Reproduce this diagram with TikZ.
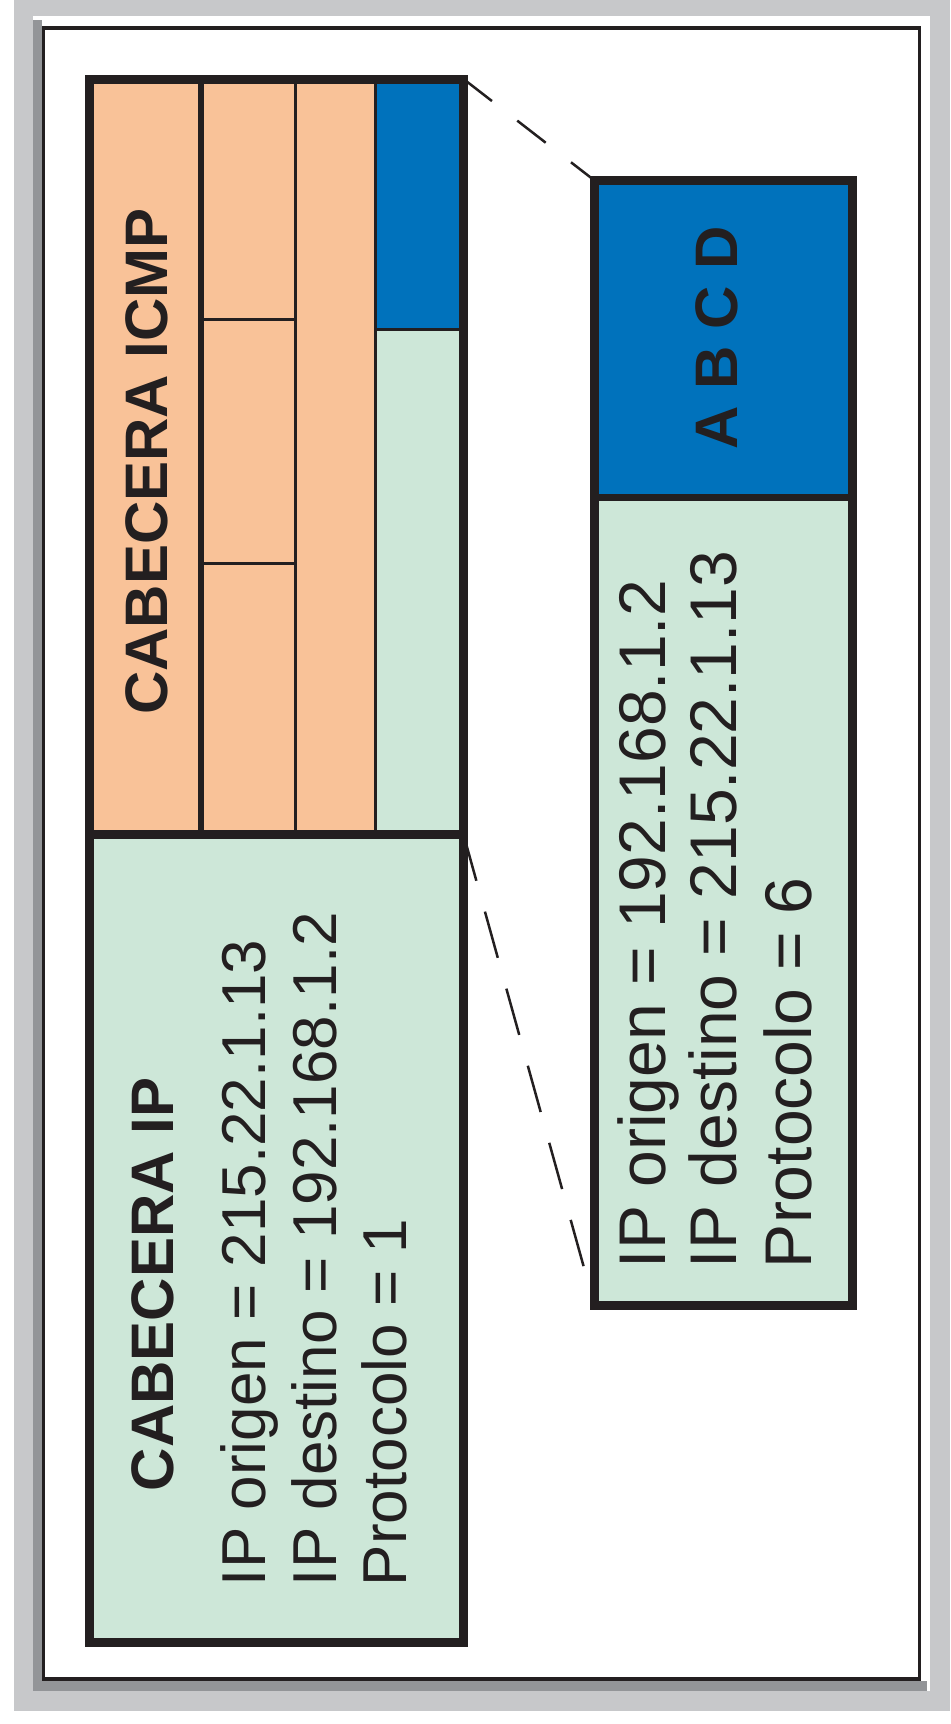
\documentclass[tikz,border=0pt]{standalone}
\usepackage{fontspec}
\setmainfont{Liberation Sans}
\definecolor{pagegray}{RGB}{199,200,202}
\definecolor{shadowgray}{RGB}{147,149,152}
\definecolor{ink}{RGB}{35,31,32}
\definecolor{peach}{RGB}{249,194,152}
\definecolor{ipblue}{RGB}{0,114,188}
\definecolor{mint}{RGB}{205,231,216}
\tikzset{
  hdr/.style={rotate=90, inner sep=0pt, outer sep=0pt, text=ink, font=\fontsize{30pt}{36pt}\selectfont\bfseries},
  txtl/.style={rotate=90, inner sep=0pt, outer sep=0pt, text=ink, anchor=base west, font=\fontsize{31pt}{37pt}\selectfont},
  txtr/.style={rotate=90, inner sep=0pt, outer sep=0pt, text=ink, anchor=base west, font=\fontsize{33pt}{39pt}\selectfont},
  thickborder/.style={draw=ink, line width=4.5pt},
  thinrule/.style={draw=ink, line width=1.5pt},
  zoomline/.style={draw=ink, line width=1.25pt}
}
\begin{document}
\begin{tikzpicture}[x=0.5pt,y=-0.5pt]
\useasboundingbox (0,0) rectangle (950,1724);
% page background and frame
\fill[white] (0,0) rectangle (950,1724);
\fill[pagegray] (14,0) rectangle (950,1711);
\fill[white] (33,16) rectangle (930,1691);
\fill[shadowgray] (33,20) rectangle (42,1691);
\fill[shadowgray] (33,1681) rectangle (927,1691);
\draw[ink, line width=1.9pt] (43.5,28) rectangle (919.5,1679);

% corner coordinates
\coordinate (ltl) at (89.5,79);
\coordinate (ltr) at (463.5,79);
\coordinate (lmr) at (463.5,834.5);
\coordinate (rtl) at (594.5,180.5);
\coordinate (rbl) at (594.5,1305.5);

% left packet fills
\fill[peach] (89.5,79) rectangle (463.5,834.5);
\fill[ipblue] (375.5,79) rectangle (463.5,329.5);
\fill[mint] (375.5,329.5) rectangle (463.5,834.5);
\fill[mint] (89.5,834.5) rectangle (463.5,1642.5);
% internal rules
\draw[ink, line width=2.75pt] (201,79) -- (201,834.5);
\draw[thinrule] (295,79) -- (295,834.5);
\draw[thinrule] (375.5,79) -- (375.5,834.5);
\draw[thinrule] (201,319) -- (295,319);
\draw[thinrule] (201,563) -- (295,563);
\draw[thinrule] (375.5,329.5) -- (463.5,329.5);
\draw[thickborder] (89.5,834.5) -- (463.5,834.5);
\draw[thickborder] (89.5,79) rectangle (463.5,1642.5);

% right packet
\fill[ipblue] (594.5,180.5) rectangle (852.5,497.5);
\fill[mint] (594.5,497.5) rectangle (852.5,1305.5);
\draw[ink, line width=3.5pt] (594.5,497.5) -- (852.5,497.5);
\draw[thickborder] (594.5,180.5) rectangle (852.5,1305.5);

% zoom lines
\draw[zoomline, dash pattern=on 18pt off 16pt] (ltr) -- (rtl);
\draw[zoomline, dash pattern=on 24pt off 16pt] (lmr) -- (rbl);

% texts
\node[hdr, anchor=base] (icmp) at (167,461.5) {CABECERA ICMP};
\node[hdr, anchor=base] (iphdr) at (173,1284.5) {CABECERA IP};
\node[txtl] (lorig) at (265,1586) {IP origen = 215.22.1.13};
\node[txtl] (ldest) at (336,1586) {IP destino = 192.168.1.2};
\node[txtl] (lprot) at (406,1586) {Protocolo = 1};
\node[hdr, anchor=base] (abcd) at (737,338) {A B C D};
\node[txtr] (rorig) at (665,1268) {IP origen = 192.168.1.2};
\node[txtr] (rdest) at (736,1268) {IP destino = 215.22.1.13};
\node[txtr] (rprot) at (811,1268) {Protocolo = 6};
\end{tikzpicture}
\end{document}
